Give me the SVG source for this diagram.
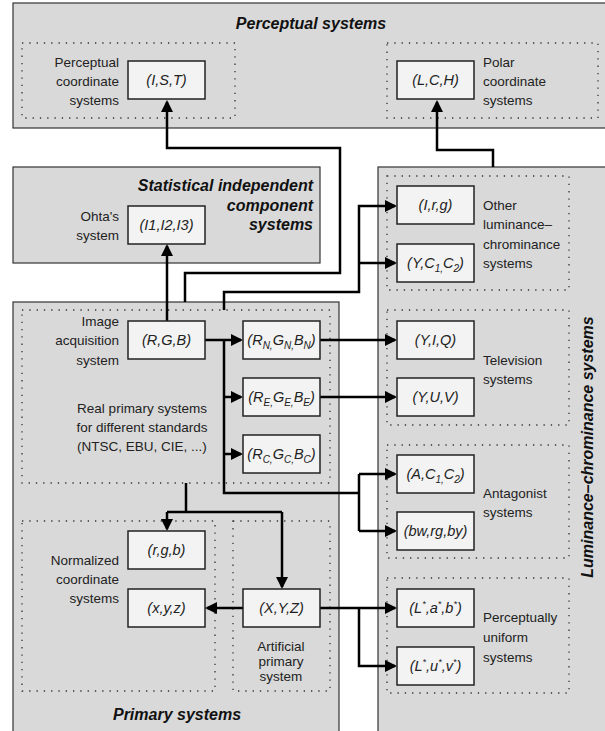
<svg xmlns="http://www.w3.org/2000/svg" width="605" height="731" viewBox="0 0 605 731">
<style>
.panel{fill:#d9d9d9;stroke:#333;stroke-width:1.2}
.dot{fill:none;stroke:#333;stroke-width:1.3;stroke-dasharray:1.3 6}
.box{fill:#f3f3f3;stroke:#222;stroke-width:1.5}
.bt{font-family:"Liberation Sans",Arial,sans-serif;font-size:14.5px;font-style:italic;fill:#222;text-anchor:middle}
.lb{font-family:"Liberation Sans",Arial,sans-serif;font-size:13.5px;fill:#222}
.r{text-anchor:end}
.m{text-anchor:middle}
.title{font-family:"Liberation Sans",Arial,sans-serif;font-size:16px;font-weight:bold;font-style:italic;fill:#111}
.con{fill:none;stroke:#000;stroke-width:2.5;marker-end:url(#ah)}
.ln{fill:none;stroke:#000;stroke-width:2.5}
</style>
<defs>
<marker id="ah" markerUnits="userSpaceOnUse" markerWidth="13" markerHeight="12" refX="10" refY="6" orient="auto">
<path d="M0,0 L12,6 L0,12 z" fill="#000"/>
</marker>
</defs>

<g id="panel-perceptual">
<rect class="panel" x="13" y="3" width="600" height="125"/>
<text class="title m" x="311" y="29">Perceptual systems</text>
<rect class="dot" x="22" y="43" width="213" height="75"/>
<rect class="dot" x="387" y="43" width="211" height="75"/>
<text class="lb r" x="119" y="67">Perceptual</text>
<text class="lb r" x="119" y="86">coordinate</text>
<text class="lb r" x="119" y="105">systems</text>
<text class="lb" x="483" y="67">Polar</text>
<text class="lb" x="483" y="86">coordinate</text>
<text class="lb" x="483" y="105">systems</text>
</g>

<g id="panel-statistical">
<rect class="panel" x="13" y="167" width="307" height="96"/>
<text class="title r" x="313" y="191">Statistical independent</text>
<text class="title r" x="313" y="211">component</text>
<text class="title r" x="313" y="230">systems</text>
<text class="lb r" x="119" y="221">Ohta's</text>
<text class="lb r" x="119" y="240">system</text>
</g>

<g id="panel-luminance">
<rect class="panel" x="378" y="167" width="240" height="580"/>
<text class="title m" transform="translate(593,447) rotate(-90)">Luminance–chrominance systems</text>
<rect class="dot" x="387" y="176" width="182" height="114"/>
<rect class="dot" x="387" y="310" width="182" height="115"/>
<rect class="dot" x="387" y="445" width="182" height="113"/>
<rect class="dot" x="387" y="578" width="182" height="115"/>
<text class="lb" x="483" y="210">Other</text>
<text class="lb" x="483" y="229">luminance–</text>
<text class="lb" x="483" y="249">chrominance</text>
<text class="lb" x="483" y="268">systems</text>
<text class="lb" x="483" y="365">Television</text>
<text class="lb" x="483" y="384">systems</text>
<text class="lb" x="483" y="498">Antagonist</text>
<text class="lb" x="483" y="517">systems</text>
<text class="lb" x="483" y="622">Perceptually</text>
<text class="lb" x="483" y="642">uniform</text>
<text class="lb" x="483" y="662">systems</text>
</g>

<g id="panel-primary">
<rect class="panel" x="13" y="302" width="326" height="440"/>
<text class="title m" x="177" y="720">Primary systems</text>
<rect class="dot" x="22" y="310" width="308" height="173"/>
<rect class="dot" x="22" y="521" width="193" height="170"/>
<rect class="dot" x="233" y="521" width="97" height="170"/>
<text class="lb r" x="119" y="326">Image</text>
<text class="lb r" x="119" y="345">acquisition</text>
<text class="lb r" x="119" y="365">system</text>
<text class="lb m" x="142" y="413">Real primary systems</text>
<text class="lb m" x="142" y="432">for different standards</text>
<text class="lb m" x="142" y="451">(NTSC, EBU, CIE, ...)</text>
<text class="lb r" x="119" y="565">Normalized</text>
<text class="lb r" x="119" y="584">coordinate</text>
<text class="lb r" x="119" y="603">systems</text>
<text class="lb m" x="281" y="651">Artificial</text>
<text class="lb m" x="281" y="666">primary</text>
<text class="lb m" x="281" y="681">system</text>
</g>

<g id="connectors">
<path class="con" d="M167,321 V246"/>
<path class="con" d="M185,302 V273 H340 V148 H167 V102"/>
<path class="con" d="M493,167 V150 H437 V102"/>
<path class="con" d="M224,310 V292 H359 V206 H395"/>
<path class="con" d="M359,263 H395"/>
<path class="con" d="M205,340 H241"/>
<path class="ln" d="M224,340 V493 H359"/>
<path class="con" d="M224,397 H241"/>
<path class="con" d="M224,454 H241"/>
<path class="ln" d="M359,474 V531"/>
<path class="con" d="M359,474 H395"/>
<path class="con" d="M359,531 H395"/>
<path class="con" d="M320,340 H395"/>
<path class="con" d="M320,397 H395"/>
<path class="ln" d="M186,483 V512"/>
<path class="ln" d="M167,512 H282"/>
<path class="con" d="M167,512 V529"/>
<path class="con" d="M282,512 V587"/>
<path class="con" d="M243,608 H207"/>
<path class="con" d="M320,608 H395"/>
<path class="con" d="M359,608 V666 H395"/>
</g>

<g id="node-IST"><rect class="box" x="128" y="61" width="77" height="38"/><text class="bt" x="166.5" y="85">(I,S,T)</text></g>
<g id="node-LCH"><rect class="box" x="397" y="61" width="77" height="38"/><text class="bt" x="435.5" y="85">(L,C,H)</text></g>
<g id="node-I1I2I3"><rect class="box" x="128" y="206" width="77" height="38"/><text class="bt" x="166.5" y="230">(I1,I2,I3)</text></g>
<g id="node-Irg"><rect class="box" x="397" y="186" width="77" height="38"/><text class="bt" x="435.5" y="210">(I,r,g)</text></g>
<g id="node-YC1C2"><rect class="box" x="397" y="244" width="77" height="38"/><text class="bt" x="435.5" y="268">(Y,C<tspan dy="4" font-size="10">1,</tspan><tspan dy="-4">C</tspan><tspan dy="4" font-size="10">2</tspan><tspan dy="-4">)</tspan></text></g>
<g id="node-RGB"><rect class="box" x="128" y="321" width="77" height="38"/><text class="bt" x="166.5" y="345">(R,G,B)</text></g>
<g id="node-RNGNBN"><rect class="box" x="243" y="321" width="77" height="38"/><text class="bt" x="281.5" y="345">(R<tspan dy="4" font-size="10">N,</tspan><tspan dy="-4">G</tspan><tspan dy="4" font-size="10">N,</tspan><tspan dy="-4">B</tspan><tspan dy="4" font-size="10">N</tspan><tspan dy="-4">)</tspan></text></g>
<g id="node-REGEBE"><rect class="box" x="243" y="378" width="77" height="38"/><text class="bt" x="281.5" y="402">(R<tspan dy="4" font-size="10">E,</tspan><tspan dy="-4">G</tspan><tspan dy="4" font-size="10">E,</tspan><tspan dy="-4">B</tspan><tspan dy="4" font-size="10">E</tspan><tspan dy="-4">)</tspan></text></g>
<g id="node-RCGCBC"><rect class="box" x="243" y="435" width="77" height="38"/><text class="bt" x="281.5" y="459">(R<tspan dy="4" font-size="10">C,</tspan><tspan dy="-4">G</tspan><tspan dy="4" font-size="10">C,</tspan><tspan dy="-4">B</tspan><tspan dy="4" font-size="10">C</tspan><tspan dy="-4">)</tspan></text></g>
<g id="node-YIQ"><rect class="box" x="397" y="321" width="77" height="38"/><text class="bt" x="435.5" y="345">(Y,I,Q)</text></g>
<g id="node-YUV"><rect class="box" x="397" y="378" width="77" height="38"/><text class="bt" x="435.5" y="402">(Y,U,V)</text></g>
<g id="node-AC1C2"><rect class="box" x="397" y="455" width="77" height="38"/><text class="bt" x="435.5" y="479">(A,C<tspan dy="4" font-size="10">1,</tspan><tspan dy="-4">C</tspan><tspan dy="4" font-size="10">2</tspan><tspan dy="-4">)</tspan></text></g>
<g id="node-bwrgby"><rect class="box" x="397" y="512" width="77" height="38"/><text class="bt" x="435.5" y="536">(bw,rg,by)</text></g>
<g id="node-rgb"><rect class="box" x="128" y="531" width="77" height="38"/><text class="bt" x="166.5" y="555">(r,g,b)</text></g>
<g id="node-xyz"><rect class="box" x="128" y="589" width="77" height="38"/><text class="bt" x="166.5" y="613">(x,y,z)</text></g>
<g id="node-XYZ"><rect class="box" x="243" y="589" width="77" height="38"/><text class="bt" x="281.5" y="613">(X,Y,Z)</text></g>
<g id="node-Lab"><rect class="box" x="397" y="589" width="77" height="38"/><text class="bt" x="435.5" y="613">(L<tspan dy="-6" font-size="9">*</tspan><tspan dy="6">,a</tspan><tspan dy="-6" font-size="9">*</tspan><tspan dy="6">,b</tspan><tspan dy="-6" font-size="9">*</tspan><tspan dy="6">)</tspan></text></g>
<g id="node-Luv"><rect class="box" x="397" y="647" width="77" height="38"/><text class="bt" x="435.5" y="671">(L<tspan dy="-6" font-size="9">*</tspan><tspan dy="6">,u</tspan><tspan dy="-6" font-size="9">*</tspan><tspan dy="6">,v</tspan><tspan dy="-6" font-size="9">*</tspan><tspan dy="6">)</tspan></text></g>
</svg>
